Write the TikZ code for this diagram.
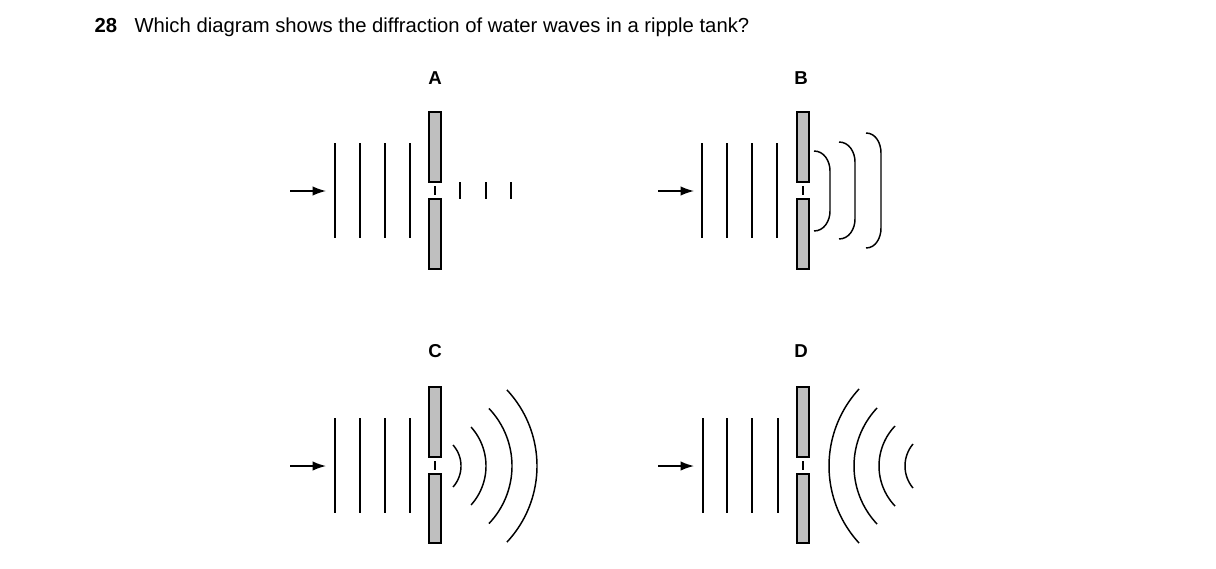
\documentclass[tikz,border=0pt]{standalone}
\usepackage{fontspec}
\setmainfont{Liberation Sans}
\usetikzlibrary{arrows.meta}
\begin{document}
\begin{tikzpicture}[x=0.75pt,y=-0.75pt,
  wave/.style={line width=1.1pt},
  bar/.style={fill=black!25,draw=black,line width=1pt},
  arr/.style={line width=1.1pt,-{Latex[length=10pt,width=7pt]}},
  lab/.style={font=\bfseries\fontsize{14}{16}\selectfont}]
\useasboundingbox (0,0) rectangle (1216,568);
\node[anchor=base west,font=\fontsize{15.2}{18}\selectfont] (q) at (90,32) {\textbf{28}\hspace{13pt}Which diagram shows the diffraction of water waves in a ripple tank?};
\node[lab] (la) at (435,78) {A};
\node[lab] (lb) at (801,78) {B};
\node[lab] (lc) at (435,351) {C};
\node[lab] (ld) at (801,351) {D};
% ---------- A
\coordinate (a0) at (290,191); \coordinate (a1) at (326,191);
\draw[arr] (a0) -- (a1);
\foreach \x in {335,360,385,410} \draw[wave] (\x,143) -- (\x,238);
\draw[bar] (429,112) rectangle (441,182);
\draw[bar] (429,199) rectangle (441,269);
\draw[wave] (435,186) -- (435,195);
\foreach \x in {460,486,511} \draw[wave] (\x,182) -- (\x,199);
% ---------- B
\coordinate (b0) at (658,191); \coordinate (b1) at (694,191);
\draw[arr] (b0) -- (b1);
\foreach \x in {702,727,752,777} \draw[wave] (\x,143) -- (\x,238);
\draw[bar] (797,112) rectangle (809,182);
\draw[bar] (797,199) rectangle (809,269);
\draw[wave] (803,186) -- (803,195);
\foreach \xa/\xb/\t/\b in {814/830/151/231, 839/855/142/239, 866/881/133/248}
  \draw[wave] (\xa,\t) to[out=0,in=90] (\xb,\t+20) -- (\xb,\b-20) to[out=-90,in=0] (\xa,\b);
% ---------- C
\coordinate (c0) at (290,466); \coordinate (c1) at (326,466);
\draw[arr] (c0) -- (c1);
\foreach \x in {335,360,385,410} \draw[wave] (\x,418) -- (\x,513);
\draw[bar] (429,387) rectangle (441,457);
\draw[bar] (429,474) rectangle (441,543);
\draw[wave] (435,461) -- (435,470);
\foreach \xa/\R/\ang in {461/31.6/41.6, 486/58.2/42, 512/83.4/43.6, 537/111.3/43.1}
  \draw[wave] plot[domain=-\ang:\ang,samples=40,smooth] ({\xa-\R+\R*cos(\x)},{466+\R*sin(\x)});
% ---------- D
\coordinate (d0) at (658,466); \coordinate (d1) at (694,466);
\draw[arr] (d0) -- (d1);
\foreach \x in {703,727,752,778} \draw[wave] (\x,418) -- (\x,513);
\draw[bar] (797,387) rectangle (809,457);
\draw[bar] (797,474) rectangle (809,543);
\draw[wave] (803,461) -- (803,470);
\foreach \xa/\R/\ang in {829/113.8/42.6, 854/84.6/43.3, 879/58/43.6, 905/34.25/40}
  \draw[wave] plot[domain=-\ang:\ang,samples=40,smooth] ({\xa+\R-\R*cos(\x)},{466+\R*sin(\x)});
\end{tikzpicture}
\end{document}
